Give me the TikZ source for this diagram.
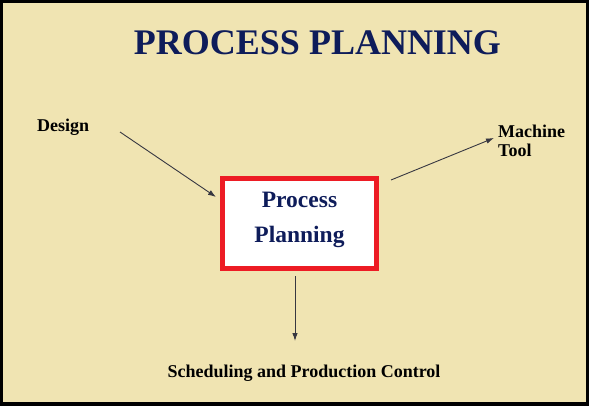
\documentclass[tikz,border=0pt]{standalone}
\usepackage{fontspec}
\setmainfont{Liberation Serif}
\usetikzlibrary{arrows.meta}
\definecolor{bgtan}{RGB}{240,228,178}
\definecolor{navy}{RGB}{14,28,90}
\definecolor{boxred}{RGB}{237,28,36}
\definecolor{arrowgray}{RGB}{55,55,65}
\tikzset{
  lbl/.style={inner sep=0pt, font=\bfseries\fontsize{18}{19}\selectfont, text=black},
  conn/.style={draw=arrowgray, line width=0.9pt, -{Latex[length=8pt,width=5.5pt]}},
  ppbox/.style={draw=boxred, line width=5pt, fill=white, minimum width=154pt, minimum height=90pt,
    align=center, text=navy, font=\bfseries\fontsize{23.5}{35}\selectfont, text depth=11.6pt, inner sep=0pt}
}
\begin{document}
\begin{tikzpicture}[x=1pt,y=-1pt]
\useasboundingbox (0,0) rectangle (589,406);
\fill[black] (0,0) rectangle (589,406);
\fill[bgtan] (3,3) rectangle (586,402);
\node[inner sep=0pt, anchor=base, text=navy, font=\bfseries\fontsize{36}{40}\selectfont] (title) at (317.5,55) {PROCESS PLANNING};
\node[lbl, anchor=base west] (design) at (37,132) {Design};
\node[ppbox] (pp) at (299.5,223.5) {Process\\Planning};
\node[lbl, anchor=north west, align=left] (mt) at (498,124.7) {Machine\\Tool};
\node[lbl, anchor=base] (spc) at (304,377) {Scheduling and Production Control};
\coordinate (d1) at (120,132);
\coordinate (d2) at (216,197);
\coordinate (m1) at (391,180);
\coordinate (m2) at (494,138);
\coordinate (s1) at (295,276);
\coordinate (s2) at (295,341);
\draw[conn] (d1) -- (d2);
\draw[conn] (m1) -- (m2);
\draw[conn] (s1) -- (s2);
\end{tikzpicture}
\end{document}
